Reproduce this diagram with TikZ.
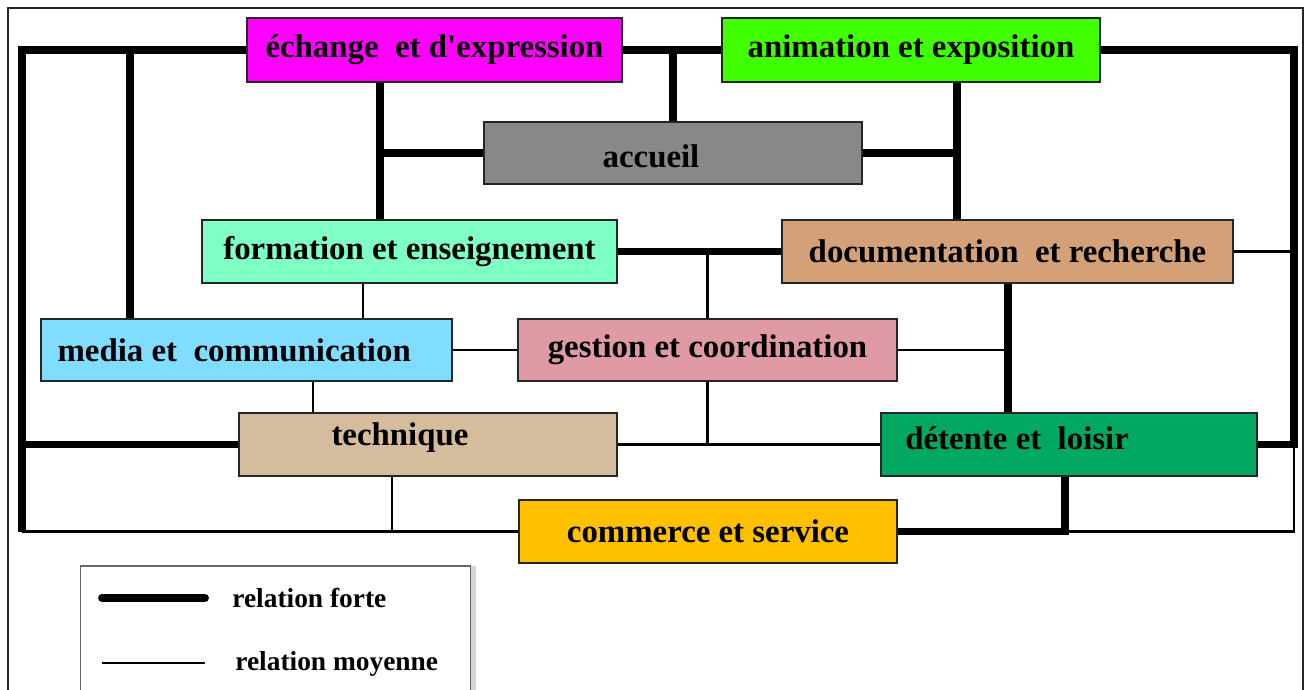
\documentclass[tikz,border=0pt]{standalone}
\usepackage{fontspec}
\setmainfont{Liberation Serif}
\usetikzlibrary{shadows}

\definecolor{echangecol}{HTML}{FF00FF}
\definecolor{animcol}{HTML}{40FF00}
\definecolor{accueilcol}{HTML}{888888}
\definecolor{formcol}{HTML}{80FFC4}
\definecolor{doccol}{HTML}{D4A078}
\definecolor{mediacol}{HTML}{80DDFF}
\definecolor{gestcol}{HTML}{E09AA6}
\definecolor{techcol}{HTML}{D4BC9C}
\definecolor{detcol}{HTML}{00A862}
\definecolor{commcol}{HTML}{FFC000}

\begin{document}
\begin{tikzpicture}[x=0.02cm, y=-0.02cm,
		box/.style = {draw=black!85, line width=1.6pt, inner sep=0pt,
				minimum height=1.26cm,
				font=\fontsize{18.7}{22}\selectfont\bfseries},
		boxtext/.style = {inner sep=0pt, font=\fontsize{18.7}{22}\selectfont\bfseries},
		strong/.style = {line width=4.5pt},
		weak/.style = {line width=1.2pt},
		legtext/.style = {anchor=west, inner sep=0pt,
				font=\fontsize{15.6}{18}\selectfont\bfseries}
	]
	\useasboundingbox (0,0) rectangle (1306,690);
	\draw[line width=0.9pt, black!85] (8,8) rectangle (1303,720);

	\node[box, fill=echangecol, minimum width=7.5cm, minimum height=1.28cm] (echange)
	at (434.5,50) {échange\ \ et d\textquotesingle expression};
	\node[box, fill=animcol, minimum width=7.56cm, minimum height=1.28cm] (animation)
	at (911,50) {animation et exposition};
	\node[box, fill=accueilcol, minimum width=7.56cm, minimum height=1.24cm] (accueil)
	at (673,153) {};
	\node[boxtext] (accueiltxt) at (651,156) {accueil};
	\node[box, fill=formcol, minimum width=8.3cm] (formation)
	at (409.5,251.5) {formation et enseignement};
	\node[box, fill=doccol, minimum width=9.02cm] (documentation)
	at (1007.5,251.5) {documentation\ \ et recherche};
	\node[box, fill=mediacol, minimum width=8.22cm, minimum height=1.24cm] (media)
	at (246.5,350) {media et\ \ communication\hspace*{14pt}};
	\node[box, fill=gestcol, minimum width=7.58cm, minimum height=1.24cm] (gestion)
	at (707.5,350) {gestion et coordination};
	\node[box, fill=techcol, minimum width=7.56cm] (technique)
	at (428,444.5) {};
	\node[boxtext] (techniquetxt) at (400,438) {technique};
	\node[box, fill=detcol, minimum width=7.52cm] (detente)
	at (1069,444.5) {};
	\node[boxtext, anchor=west] (detentetxt) at (905,438) {détente et\ \ loisir};
	\node[box, fill=commcol, minimum width=7.56cm] (commerce)
	at (708,531.5) {commerce et service};

	\coordinate (lefttop) at (22,50);
	\coordinate (leftbot) at (22,531.5);
	\coordinate (mediatop) at (130,50);
	\coordinate (jE) at (380,153);
	\coordinate (jA) at (957,153);
	\coordinate (rtop) at (1294,50);
	\coordinate (rmid) at (1294,444.5);
	\coordinate (rbot) at (1294,531.5);
	\coordinate (jD) at (1008,350);
	\coordinate (jC) at (1065,531.5);
	\coordinate (fm) at (363,300);
	\coordinate (mt) at (313,397);
	\coordinate (tb) at (392,531.5);

	% relation forte
	\draw[strong] (echange.west) -- (lefttop) -- (leftbot);
	\draw[strong] (mediatop) -- (mediatop |- media.north);
	\draw[strong] (technique.west) -- (technique.west -| lefttop);
	\draw[strong] (echange.east) -- (animation.west);
	\draw[strong] (accueil.north) -- (accueil.north |- echange.east);
	\draw[strong] (echange.south -| jE) -- (formation.north -| jE);
	\draw[strong] (jE) -- (accueil.west);
	\draw[strong] (animation.south -| jA) -- (documentation.north -| jA);
	\draw[strong] (jA) -- (accueil.east);
	\draw[strong] (animation.east) -- (rtop) -- (rmid) -- (detente.east);
	\draw[strong] (formation.east) -- (documentation.west);
	\draw[strong] (documentation.south -| jD) -- (detente.north -| jD);
	\draw[strong] (detente.south -| jC) -- (jC) -- (commerce.east);

	% relation moyenne
	\draw[weak] (formation.south -| fm) -- (media.north -| fm);
	\draw[weak] (media.east) -- (gestion.west);
	\draw[weak] (media.south -| mt) -- (technique.north -| mt);
	\draw[weak] (gestion.north) -- (gestion.north |- formation.east);
	\draw[weak] (gestion.south) -- (gestion.south |- technique.east);
	\draw[weak] (technique.east) -- (detente.west);
	\draw[weak] (gestion.east) -- (gestion.east -| jD);
	\draw[weak] (documentation.east) -- (documentation.east -| rtop);
	\draw[weak] (rmid) -- (rbot) -- (jC);
	\draw[weak] (technique.south -| tb) -- (tb);
	\draw[weak] (leftbot) -- (commerce.west);

	% legende
	\node[draw=black!60, line width=0.6pt, fill=white, minimum width=7.82cm,
		minimum height=3.08cm, inner sep=0pt,
		drop shadow={shadow xshift=3pt, shadow yshift=0pt, opacity=0.35}] (legend)
	at (275.5,643) {};
	\node[legtext] (forte) at (232,598) {relation forte};
	\node[legtext] (moyenne) at (235,664) {relation moyenne};
	\coordinate (f1) at (102,598);
	\coordinate (m1) at (102,663);
	\draw[strong, line cap=round] (f1) -- (f1 -| 205,0);
	\draw[weak] (m1) -- (m1 -| 205,0);
\end{tikzpicture}
\end{document}
